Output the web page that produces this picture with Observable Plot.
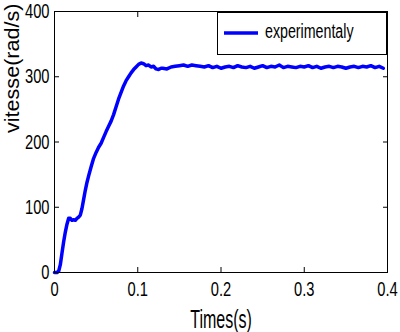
<!DOCTYPE html>
<html><head><meta charset="utf-8">
<script src="https://cdn.jsdelivr.net/npm/d3@7"></script>
<script src="https://cdn.jsdelivr.net/npm/@observablehq/plot@0.6"></script>
<style>body{margin:0;background:#fff} #chart{position:relative;width:400px;height:332px}</style>
</head><body><div id="chart"></div>
<script>
const time = [0.000,0.003,0.005,0.007,0.009,0.011,0.013,0.015,0.017,0.019,0.021,0.023,0.025,0.027,0.029,0.031,0.033,0.035,0.037,0.039,
0.041,0.044,0.047,0.050,0.053,0.056,0.059,0.062,0.065,0.068,0.071,0.074,0.077,0.080,0.083,0.086,0.089,0.092,0.095,0.098,
0.101,0.104,0.107,0.110,0.113,0.116,0.119,0.122,0.125,0.128,
0.130,0.135,0.140,0.145,0.150,0.155,0.160,0.165,0.170,0.175,0.180,0.185,0.190,0.195,0.200,0.205,0.210,0.215,0.220,0.225,
0.230,0.235,0.240,0.245,0.250,0.255,0.260,0.265,0.270,0.275,0.280,0.285,0.290,0.295,0.300,0.305,0.310,0.315,0.320,0.325,
0.330,0.335,0.340,0.345,0.350,0.355,0.360,0.365,0.370,0.375,0.380,0.385,0.390,0.395];
const speed = [0,0,2,12,30,47,62,74,83,83,80,81,80,83,85,88,98,112,126,138,
148,162,175,184,192,198,207,216,224,232,242,254,266,276,286,294,300,306,311,315,
319,321,320,317,318,315,316,312,311,313,
313,312,315,316,317,318,316,318,317,316,315,317,314,316,313,315,316,314,317,315,
314,316,313,315,317,314,316,315,318,314,316,315,314,316,315,317,314,316,313,315,
316,314,316,315,313,315,316,314,316,315,317,314,316,313];
const xTicks = [0, 0.1, 0.2, 0.3, 0.4];
const yTicks = [0, 100, 200, 300, 400];
const seriesName = "experimentaly";
const xLabel = "Times(s)";
const yLabel = "vitesse(rad/s)";

const data = time.map((t, i) => ({t, v: speed[i]}));
const font = "'Liberation Sans', Arial, sans-serif";
const noText = () => "";

const plot = Plot.plot({
  width: 400, height: 332,
  marginLeft: 54, marginRight: 13, marginTop: 11, marginBottom: 60,
  style: {fontFamily: font, fontSize: "21px", background: "#fff", color: "#000", overflow: "visible"},
  x: {domain: [0, 0.4]},
  y: {domain: [0, 400]},
  marks: [
    Plot.line(data, {x: "t", y: "v", stroke: "#0000ff", strokeWidth: 3.5}),
    Plot.frame({stroke: "#000"}),
    Plot.axisX(xTicks, {anchor: "bottom", tickSize: -5, tickFormat: noText, label: null}),
    Plot.axisX(xTicks, {anchor: "top", tickSize: -5, tickFormat: noText, label: null}),
    Plot.axisY(yTicks, {anchor: "left", tickSize: -5, tickFormat: noText, label: null}),
    Plot.axisY(yTicks, {anchor: "right", tickSize: -5, tickFormat: noText, label: null}),
    Plot.axisX(xTicks, {anchor: "bottom", tickSize: 0, tickPadding: 9, tickFormat: d => String(d), fontSize: 21, label: null}),
    Plot.axisY(yTicks, {anchor: "left", tickSize: 0, tickPadding: 5, tickFormat: d => String(d), fontSize: 21, label: null}),
    Plot.text([xLabel], {frameAnchor: "bottom", dy: 55, fontSize: 25}),
    Plot.text([yLabel], {frameAnchor: "left", rotate: -90, dx: -42, dy: -9, fontSize: 20})
  ]
});

// legend box (MATLAB style)
const svg = d3.select(plot);
const g = svg.append("g");
g.append("rect").attr("x", 217.5).attr("y", 12.5).attr("width", 169).attr("height", 42)
  .attr("fill", "#fff").attr("stroke", "#000");
g.append("line").attr("x1", 224).attr("x2", 258).attr("y1", 33).attr("y2", 33)
  .attr("stroke", "#0000ff").attr("stroke-width", 3.5);
g.append("text").attr("x", 265).attr("y", 38).attr("font-size", 19.5)
  .attr("text-anchor", "start")
  .attr("font-family", font).attr("fill", "#000").text(seriesName);

// glyph widths as in the MATLAB rendering
function widthScale(s) {
  if (s === xLabel) return 0.64;
  if (s === yLabel) return 1.08;
  if (s === seriesName) return 0.73;
  return 0.7;
}
svg.selectAll("text").each(function() {
  const el = d3.select(this);
  const s = this.textContent;
  if (!s) return;
  const k = widthScale(s);
  const x = parseFloat(el.attr("x")) || 0;
  const tr = el.attr("transform") || "";
  el.attr("transform", `${tr} translate(${x},0) scale(${k},1) translate(${-x},0)`);
});

document.getElementById("chart").appendChild(plot);
</script>
</body></html>
